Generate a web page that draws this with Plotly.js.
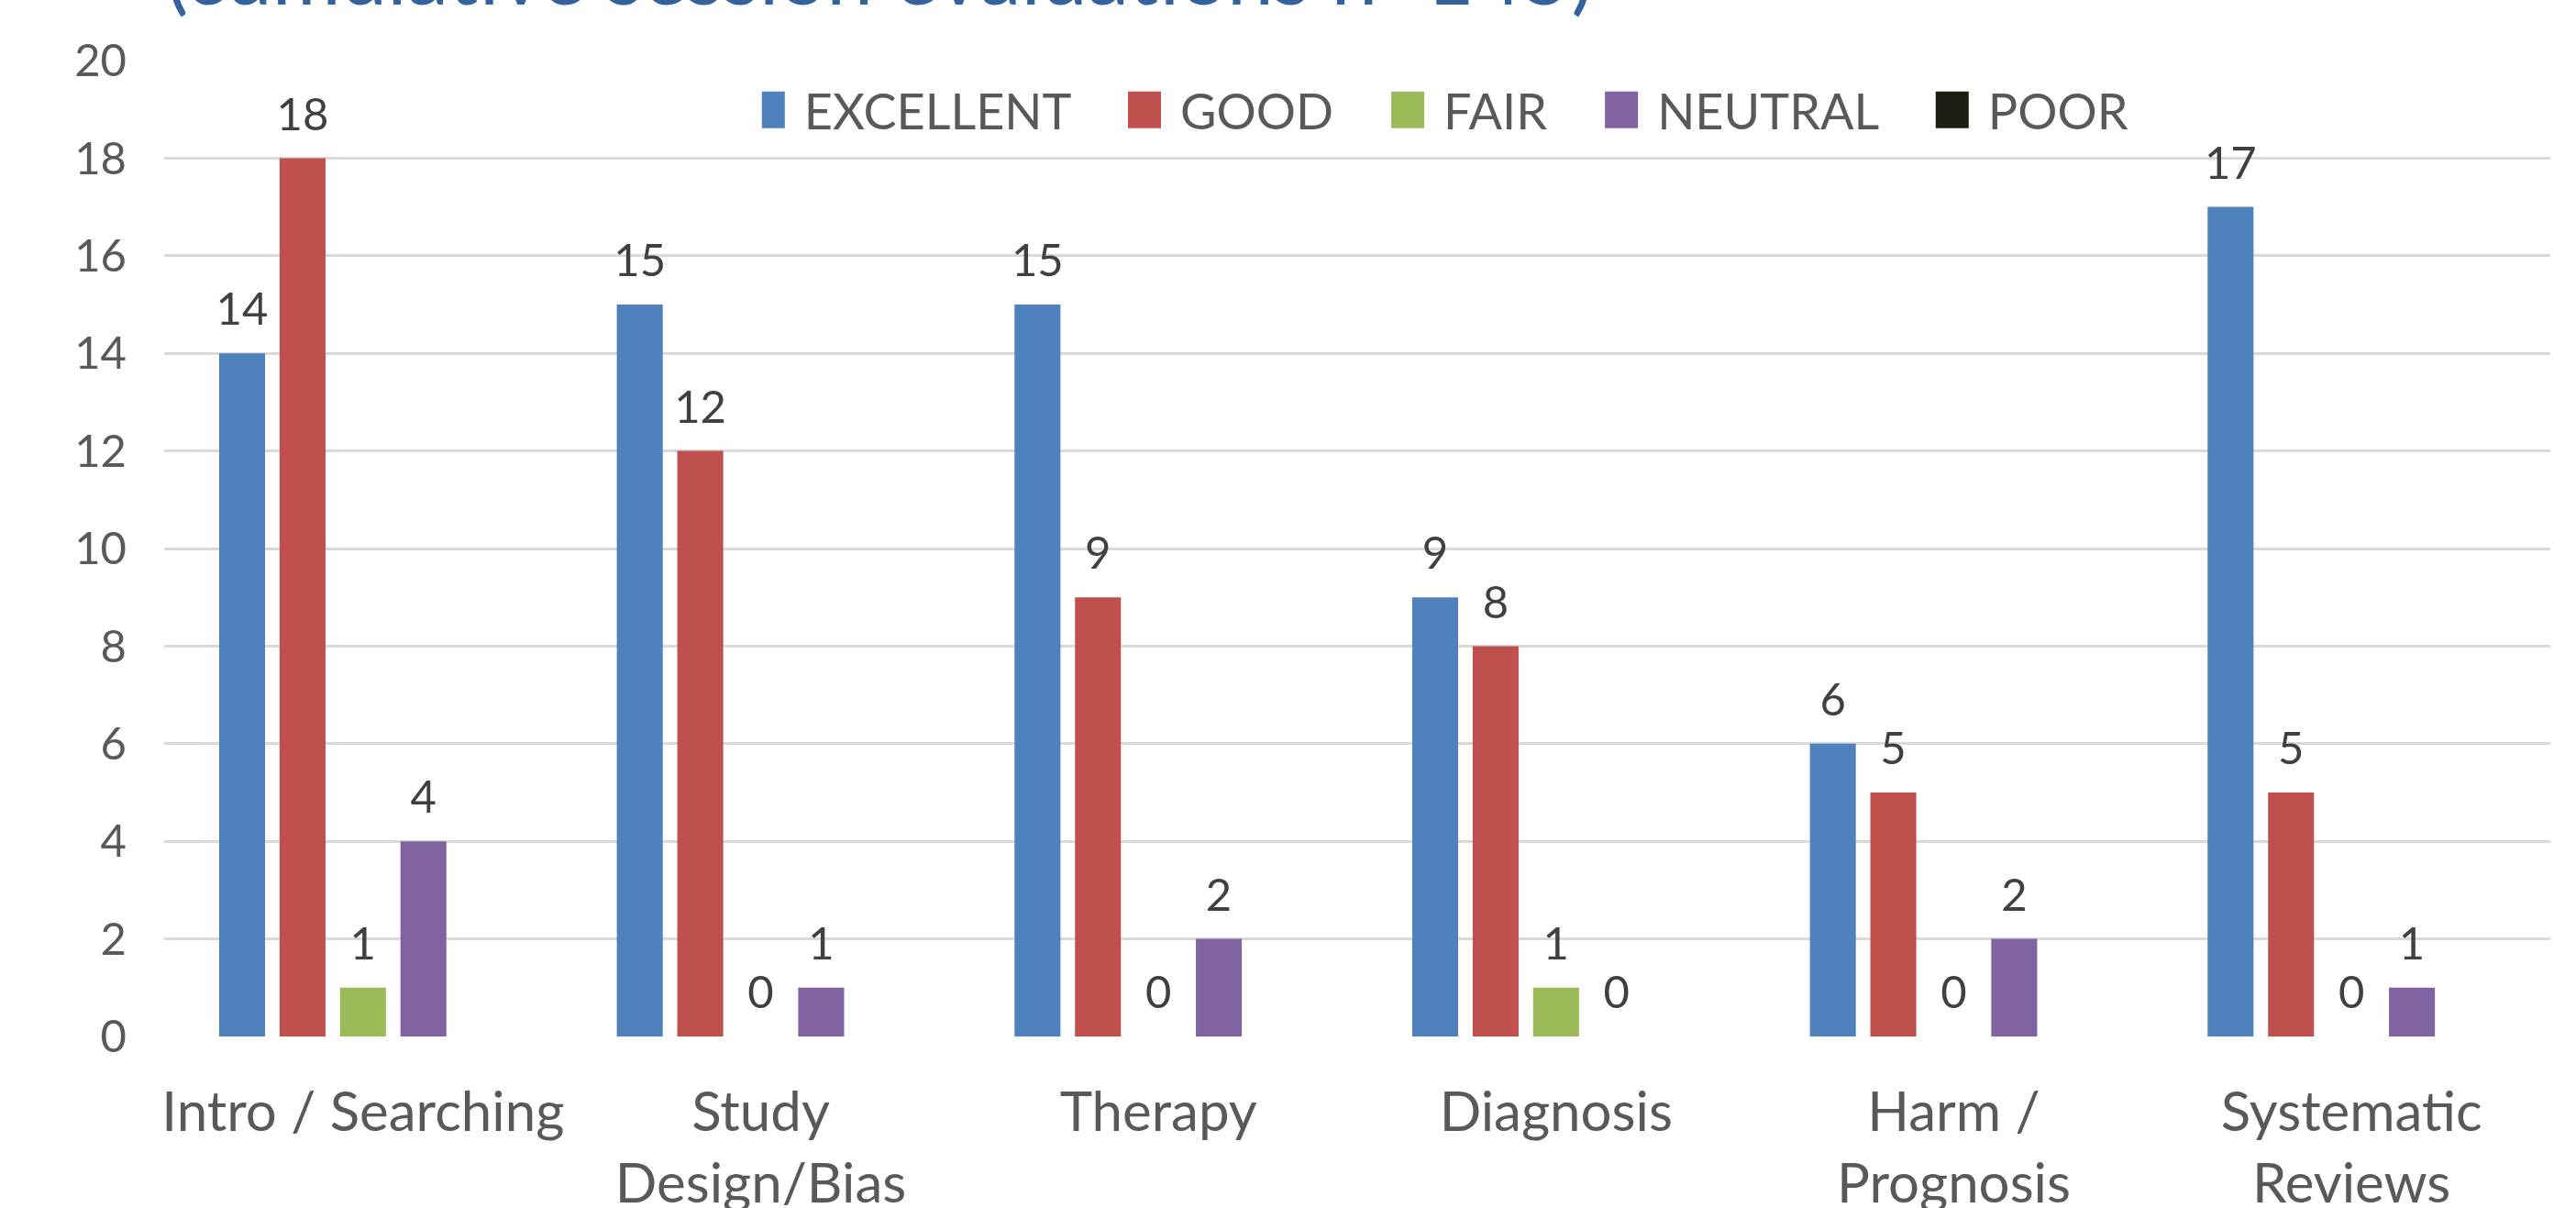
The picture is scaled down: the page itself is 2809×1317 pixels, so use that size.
<!DOCTYPE html>
<html>
<head>
<meta charset="utf-8">
<script src="https://cdn.plot.ly/plotly-3.0.1.min.js"></script>
<style>
  html, body { margin: 0; padding: 0; background: #ffffff; }
  #chart { width: 2809px; height: 1317px; }
</style>
</head>
<body>
<div id="chart"></div>
<script>
// ---- data ----
const categories = ['Intro / Searching', 'Study<br>Design/Bias', 'Therapy', 'Diagnosis', 'Harm /<br>Prognosis', 'Systematic<br>Reviews'];
const seriesNames = ['EXCELLENT', 'GOOD', 'FAIR', 'NEUTRAL', 'POOR'];
const excellent = [14, 15, 15, 9, 6, 17];
const good      = [18, 12, 9, 8, 5, 5];
const fair      = [1, 0, 0, 1, 0, 0];
const neutral   = [4, 1, 2, 0, 2, 1];
const poor      = [null, null, null, null, null, null];
const titleText = '(cumulative session evaluations n=145)';

// ---- styles ----
const colors = ['#4F81BD', '#C0504D', '#9BBB59', '#8064A2', '#1F1C12'];
const FONT = 'Lato, "Open Sans", "DejaVu Sans", sans-serif';
const values = [excellent, good, fair, neutral, poor];
const legendPad = '\u00A0\u00A0\u00A0\u00A0\u00A0';

const traces = [];
values.forEach((v, i) => {
  traces.push({
    type: 'bar',
    name: seriesNames[i] + (i < seriesNames.length - 1 ? legendPad : ''),
    x: categories,
    y: v,
    offsetgroup: 'g' + i,
    marker: { color: colors[i] },
    hoverinfo: 'x+y'
  });
});
// value labels (text points aligned with the bar groups)
values.forEach((v, i) => {
  traces.push({
    type: 'scatter',
    mode: 'markers+text',
    x: categories,
    y: v,
    offsetgroup: 'g' + i,
    text: v.map(d => (d === null ? '' : String(d))),
    textposition: 'top center',
    textfont: { family: FONT, size: 49, color: '#404040' },
    marker: { size: 28, color: 'rgba(0,0,0,0)' },
    cliponaxis: false,
    showlegend: false,
    hoverinfo: 'skip'
  });
});

const layout = {
  width: 2809,
  height: 1317,
  paper_bgcolor: '#ffffff',
  plot_bgcolor: '#ffffff',
  font: { family: FONT, color: '#595959' },
  margin: { l: 179, r: 28, t: 66, b: 187, pad: 0 },
  barmode: 'group',
  bargap: 0.24,
  bargroupgap: 0.24,
  scattermode: 'group',
  scattergap: 0.24,
  showlegend: true,
  legend: {
    orientation: 'h',
    x: 0.2505, xanchor: 'left',
    y: 0.949, yanchor: 'middle',
    font: { family: FONT, size: 54, color: '#595959' },
    bgcolor: 'rgba(0,0,0,0)',
    itemwidth: 36,
    traceorder: 'normal'
  },
  xaxis: {
    type: 'category',
    tickfont: { family: FONT, size: 60, color: '#595959' },
    ticks: '',
    showline: false,
    showgrid: false,
    zeroline: false,
    ticklabelstandoff: 42
  },
  yaxis: {
    range: [0, 20],
    dtick: 2,
    tick0: 0,
    tickfont: { family: FONT, size: 49, color: '#595959' },
    showgrid: true,
    gridcolor: '#D9D9D9',
    gridwidth: 3,
    zeroline: false,
    showline: false,
    ticks: '',
    ticklabelstandoff: 40
  },
  annotations: [{
    text: titleText,
    xref: 'paper', yref: 'paper',
    x: 0, xanchor: 'left',
    y: 1.038, yanchor: 'bottom',
    showarrow: false,
    font: { family: FONT, size: 91, color: '#33629C' }
  }]
};

Plotly.newPlot('chart', traces, layout, { staticPlot: true, displayModeBar: false }).then(gd => {
  // enlarge legend colour swatches to match the reference
  document.querySelectorAll('#chart .legendpoints path').forEach(p => {
    p.setAttribute('d', 'M2,20H-34V-20H2Z');
    p.style.strokeWidth = '0px';
  });
});
</script>
</body>
</html>
